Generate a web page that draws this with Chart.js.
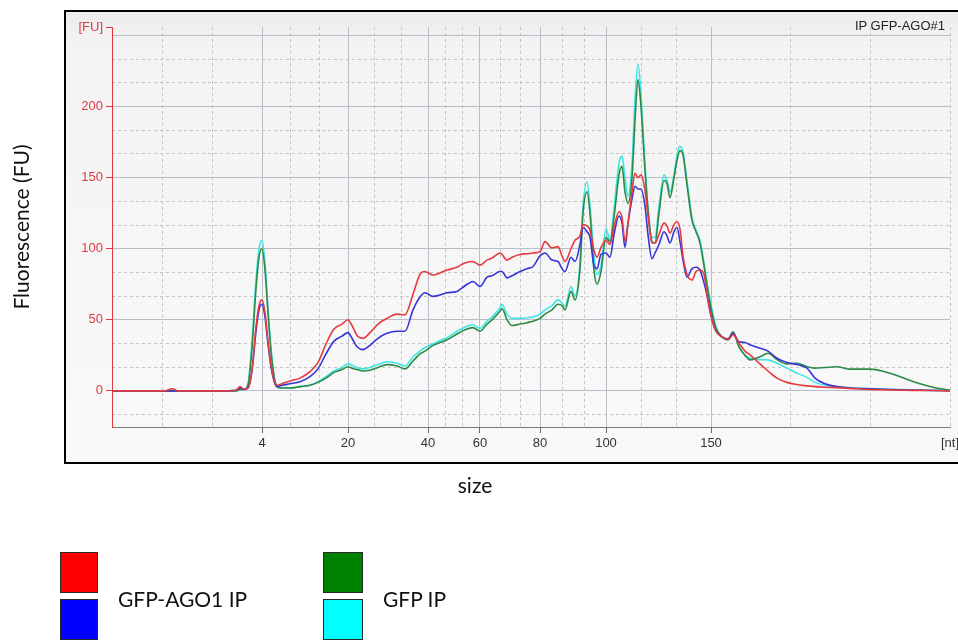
<!DOCTYPE html>
<html><head><meta charset="utf-8">
<script src="https://cdn.jsdelivr.net/npm/chart.js"></script>
<style>
html,body{margin:0;padding:0;background:#fff;width:958px;height:641px;overflow:hidden;}
#wrap{position:relative;width:958px;height:641px;}
#c{position:absolute;left:0;top:0;}
.sw{position:absolute;box-sizing:border-box;border:1.5px solid #2a2a2a;}
.lt{position:absolute;font-family:Lato,'Open Sans',sans-serif;font-size:21px;color:#111;line-height:24px;white-space:nowrap;}
#tag{position:absolute;right:13px;top:18px;font:13px 'Liberation Sans',Arial,sans-serif;color:#222;line-height:16px;}
</style></head><body>
<div id="wrap">
<canvas id="c" width="958" height="641"></canvas>
<div id="tag">IP GFP-AGO#1</div>
<div id="legend"></div>
</div>
<script>
// ---- axis definitions ----
const ladderSizes = ['4','20','40','60','80','100','150'];
const ladderTimes = [35.0, 43.6, 51.6, 56.8, 62.8, 69.4, 79.9];
const timeRange = [20, 103.8];
const fuTicks = [0, 50, 100, 150, 200, 250];
const fuRange = [-25.4, 256];

// ---- data (migration time, fluorescence) ----
const migrationTime = [
20.0,22.8,25.3,26.0,26.6,30.8,32.4,32.8,33.2,33.6,
34.0,34.4,34.7,35.0,35.3,35.6,35.9,36.2,36.5,37.0,
37.8,38.8,39.8,40.6,41.4,42.2,43.0,43.6,44.0,44.5,
45.1,45.8,46.6,47.5,48.5,49.3,50.1,50.8,51.3,52.1,
52.8,53.5,54.5,55.3,56.1,56.8,57.5,58.0,58.8,59.0,
59.5,60.0,60.8,61.5,62.1,62.8,63.3,64.0,64.6,65.0,
65.3,65.9,66.3,66.8,67.1,67.5,67.8,68.2,68.5,68.9,
69.4,69.8,70.2,70.7,71.0,71.3,71.6,72.0,72.3,72.6,
72.9,73.3,73.6,74.0,74.3,74.7,75.2,75.5,75.8,76.2,
76.5,76.8,77.1,77.5,78.0,78.4,78.8,79.2,79.6,80.0,
80.4,81.0,81.6,82.1,82.7,83.3,83.8,84.8,85.6,86.5,
87.5,88.5,89.5,90.3,91.3,92.5,93.8,95.8,97.8,100.1,
102.1,103.8];

const ago1IpRed = [
0,0,0,1.5,0,0,0.5,3,1,2,
15,45,60,64,55,35,18,8,4,5,
7,9,13.5,20,33,43.5,47,50,46,39,
37,41,47,51,54,53.5,68,82,84,81.5,
83,85,87,90,91,88.5,92,93.5,97,96,
92,94,96,96.5,97,98,105,100.5,101.5,95,
91,100,106,109,117,116,113,99,94,101,
106,103,115,126,122,105,118,140,153,150,
152,141,123,104,104,110,118,116,111,117,
119,114,95,82,78,84,85,82,63,50,
42,38,36,39.5,33.5,28,25.4,19,14,9,
6,4.5,3.5,3,2.6,2.3,1.8,1,0.7,0.4,
0.3,0];

const ago1IpBlue = [
0,0,0,0,0,0,0.5,2,1,2,
14,42,57,61,52,33,17,7,3,4,
5,6.5,10,15.5,26,35,38.5,41,37,31,
29,32,37,40.5,42,42,57,66,69,66.5,
67.5,69,70,74,77,73.5,80,81,84,84,
79.5,81,84,86,87.5,95,97,92,91,86,
84,94,91,103,115,112,108,88,86,96,
97,94,110,123,118,101,118,135,144,142,
142,130,110,93,97,103,112,109,104,112,
115,105,92,80,86,87,85,76,64,50,
42,38,36.5,40.5,34.5,34,32.4,30,28,23,
20,18.5,16,9,5,3,2,1.5,1,0.6,
0.3,0];

const gfpIpGreen = [
0,0,0,0,0,0,0,1,1,4,
30,72,94,100,85,55,28,10,3,2,
2,3,4,6,9,13,15,17,16,15,
14,14.5,16.5,18.5,17.5,15.5,21,26,28,32,
34,36,40,43,44.5,42,47,50,56,58,
50,46,47,48,49,51,54,57,61,60,
57,70,64,86,125,140,125,85,75,84,
108,105,122,152,158,140,132,150,190,219,
200,155,128,105,104,125,148,146,136,150,
162,169,166,145,120,112,104,88,70,55,
44,38,36,41.5,31,25,21.8,24,26.5,22,
19,19.5,17,16,16.5,17,15.3,15.3,12.4,6.6,
2.5,0.5];

const gfpIpCyan = [
0,0,0,0,0,0,0,1,1,5,
35,78,100,106,90,58,30,11,3,2,
2,3,4,6.5,10,14,16.5,19,18,16.5,
15.5,16.5,18.5,20.5,19.5,17.5,24,28,30.5,33,
35.5,37.5,42,45,46.5,44,49,52,58.5,61,
54,51,51,51.5,52,54,57,60,64,62,
59.4,73.4,67,90,130,147,130,95,82,88,
114,106,128,160,165,150,137,160,205,230,
208,160,128,108,108,130,152,148,140,152,
166,172,168,148,122,113,106,90,72,57,
45,38,36,41,31,25,23,22,21.8,19.5,
16,12.5,9.5,6,4,3,2.3,1.5,1.2,0.8,
0.6,0.5];

const seriesNames = ['GFP-AGO1 IP (1)', 'GFP-AGO1 IP (2)', 'GFP IP (1)', 'GFP IP (2)'];
const seriesValues = [ago1IpRed, ago1IpBlue, gfpIpGreen, gfpIpCyan];
const lineColors = ['#e63a3e', '#3535d8', '#2d8a46', '#3fe4e4'];
const swatchColors = ['#ff0000', '#0000ff', '#008000', '#00ffff'];
const legendGroups = [{label: 'GFP-AGO1 IP', series: [0, 1]}, {label: 'GFP IP', series: [2, 3]}];

// ---- derived minor grid positions (thirds between major lines) ----
const xBounds = [timeRange[0], ...ladderTimes, timeRange[1]];
const xMinor = [];
for (let i = 0; i < xBounds.length - 1; i++) {
  const a = xBounds[i], b = xBounds[i + 1];
  xMinor.push(a + (b - a) / 3, a + 2 * (b - a) / 3);
}
xMinor.push(timeRange[1]);
const yMinor = [];
for (let k = -1; k <= 15; k++) { if (k % 3 !== 0) yMinor.push(k * 50 / 3); }

const AXIS_RED = '#e03a40';
const MAJOR_GRID = '#b9bcc9';
const MINOR_GRID = '#c4c4c4';
const tickFont = {family: "'Liberation Sans', Arial, sans-serif", size: 13};
const titleFont = {family: "Lato, 'Open Sans', sans-serif", size: 21};

const framePlugin = {
  id: 'frame',
  beforeDraw(chart) {
    const ctx = chart.ctx;
    ctx.save();
    const g = ctx.createLinearGradient(0, 10, 0, 463);
    g.addColorStop(0, '#ececec');
    g.addColorStop(0.08, '#f3f3f3');
    g.addColorStop(1, '#f9f9f9');
    ctx.fillStyle = g;
    ctx.fillRect(64, 10, 960 - 64, 453);
    ctx.strokeStyle = '#000';
    ctx.lineWidth = 2;
    ctx.strokeRect(65, 11, 960 - 65, 452);
    ctx.restore();
  }
};

new Chart(document.getElementById('c'), {
  type: 'line',
  data: {
    datasets: seriesValues.map((vals, s) => ({
      label: seriesNames[s],
      data: migrationTime.map((t, i) => ({x: t, y: vals[i]})),
      borderColor: lineColors[s],
      borderWidth: 1.6,
      pointRadius: 0,
      fill: false,
      cubicInterpolationMode: 'monotone'
    }))
  },
  options: {
    responsive: false,
    animation: false,
    devicePixelRatio: 1,
    layout: {padding: {left: 0, right: 8, top: 27, bottom: 137.4}},
    plugins: {
      legend: {display: false},
      tooltip: {enabled: false},
      title: {
        display: true, text: 'size', position: 'bottom', color: '#111',
        font: Object.assign({weight: 'normal'}, titleFont),
        padding: {top: 8, bottom: 5}
      }
    },
    scales: {
      x2: {
        type: 'linear', position: 'bottom', min: timeRange[0], max: timeRange[1],
        afterBuildTicks: s => { s.ticks = xMinor.map(v => ({value: v})); },
        afterFit: s => { s.height = 0; s.paddingLeft = 0; s.paddingRight = 0; },
        ticks: {display: false},
        grid: {color: MINOR_GRID, lineWidth: 1, drawTicks: false},
        border: {display: false, dash: [3, 3]}
      },
      x: {
        type: 'linear', position: 'bottom', min: timeRange[0], max: timeRange[1],
        afterBuildTicks: s => { s.ticks = ladderTimes.concat([timeRange[1]]).map(v => ({value: v})); },
        afterFit: s => { s.height = 38.4; s.paddingLeft = 0; s.paddingRight = 0; },
        ticks: {
          autoSkip: false, maxRotation: 0, color: '#333', font: tickFont, padding: 3,
          callback: (v) => { const i = ladderTimes.indexOf(v); return i >= 0 ? ladderSizes[i] : '[nt]'; }
        },
        grid: {
          color: c => (c.tick && c.tick.value === timeRange[1]) ? 'rgba(0,0,0,0)' : MAJOR_GRID,
          tickColor: c => (c.tick && c.tick.value === timeRange[1]) ? 'rgba(0,0,0,0)' : '#666',
          lineWidth: 1, tickLength: 6
        },
        border: {color: '#7a7a7a', width: 1}
      },
      y2: {
        type: 'linear', position: 'left', min: fuRange[0], max: fuRange[1],
        afterBuildTicks: s => { s.ticks = yMinor.map(v => ({value: v})); },
        afterFit: s => { s.width = 0; },
        ticks: {display: false},
        grid: {color: MINOR_GRID, lineWidth: 1, drawTicks: false},
        border: {display: false, dash: [3, 3]}
      },
      y: {
        type: 'linear', position: 'left', min: fuRange[0], max: fuRange[1],
        afterBuildTicks: s => { s.ticks = fuTicks.concat([fuRange[1]]).map(v => ({value: v})); },
        afterFit: s => { s.width = 112; },
        ticks: {
          color: AXIS_RED, font: tickFont, padding: 3,
          callback: v => v === fuRange[1] ? '[FU]' : (v === 250 ? '' : String(v))
        },
        grid: {
          color: c => (c.tick && c.tick.value === fuRange[1]) ? 'rgba(0,0,0,0)' : MAJOR_GRID,
          tickColor: c => (c.tick && c.tick.value === 250) ? 'rgba(0,0,0,0)' : AXIS_RED,
          lineWidth: 1, tickLength: 6
        },
        border: {color: AXIS_RED, width: 1},
        title: {display: true, text: 'Fluorescence (FU)', color: '#111', font: titleFont, padding: {top: 9.5}}
      }
    }
  },
  plugins: [framePlugin]
});

// ---- HTML legend built from the series arrays ----
const legendBox = {lefts: [60, 323], widths: [38, 40], tops: [552, 599], height: 41, textGap: 20, textTop: 587};
const legendEl = document.getElementById('legend');
legendGroups.forEach((grp, gi) => {
  grp.series.forEach((s, k) => {
    const d = document.createElement('div');
    d.className = 'sw';
    d.style.left = legendBox.lefts[gi] + 'px';
    d.style.top = legendBox.tops[k] + 'px';
    d.style.width = legendBox.widths[gi] + 'px';
    d.style.height = legendBox.height + 'px';
    d.style.background = swatchColors[s];
    legendEl.appendChild(d);
  });
  const t = document.createElement('div');
  t.className = 'lt';
  t.textContent = grp.label;
  t.style.left = (legendBox.lefts[gi] + legendBox.widths[gi] + legendBox.textGap) + 'px';
  t.style.top = legendBox.textTop + 'px';
  legendEl.appendChild(t);
});
</script>
</body></html>
